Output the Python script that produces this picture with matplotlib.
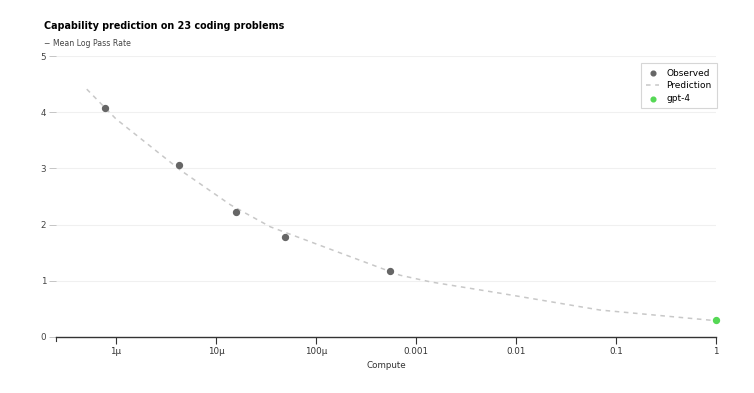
import numpy as np
import matplotlib
matplotlib.use('Agg')
import matplotlib.pyplot as plt

# observed points (compute, mean log pass rate)
obs_x = [7.8e-7, 4.3e-6, 1.6e-5, 4.9e-5, 5.5e-4]
obs_y = [4.07, 3.06, 2.22, 1.78, 1.17]

# prediction curve
pred_x = [5.1e-7, 1e-6, 4.4e-6, 1.4e-5, 3.5e-5, 6.9e-4, 1.4e-3, 6.9e-3, 6.9e-2, 1.0]
pred_y = [4.41, 3.88, 2.97, 2.35, 1.96, 1.10, 0.98, 0.78, 0.48, 0.29]

gpt4_x = [1.0]
gpt4_y = [0.30]

xticks = [1e-6, 1e-5, 1e-4, 1e-3, 1e-2, 1e-1, 1]
xticklabels = ['1µ', '10µ', '100µ', '0.001', '0.01', '0.1', '1']
yticks = [0, 1, 2, 3, 4, 5]

plt.rcParams['font.family'] = ['DejaVu Sans']

fig = plt.figure(figsize=(7.54, 3.93), dpi=100)
ax = fig.add_axes([56/754, 1-337/393, 660/754, 281/393])

ax.plot(pred_x, pred_y, color='#c8c8c8', lw=1.1, ls=(0, (3, 3)), label='Prediction', zorder=2)
ax.scatter(obs_x, obs_y, s=18, color='#666666', label='Observed', zorder=3)
ax.scatter(gpt4_x, gpt4_y, s=18, color='#55d855', label='gpt-4', zorder=3, clip_on=False)

ax.set_xscale('log')
ax.set_xlim(10**-6.6, 1)
ax.set_ylim(0, 5)
ax.set_xticks(xticks)
ax.set_xticklabels(xticklabels)
ax.minorticks_off()
ax.set_yticks(yticks)

for y in yticks[1:]:
    ax.axhline(y, color='#f0f0f0', lw=0.8, zorder=0)

for s in ['top', 'right', 'left']:
    ax.spines[s].set_visible(False)
ax.spines['bottom'].set_color('#333333')
ax.spines['bottom'].set_linewidth(1.0)
ax.tick_params(axis='x', length=5, width=0.8, color='#333333', labelsize=6.3, labelcolor='#333333', pad=2)
ax.tick_params(axis='y', length=5, width=0.6, color='#bbbbbb', labelsize=6.3, labelcolor='#444444', pad=2)
# outer tick at the left end of the axis
ax.plot([10**-6.6, 10**-6.6], [0, -0.08], color='#333333', lw=0.8, clip_on=False)

ax.set_xlabel('Compute', fontsize=6.3, color='#333333', labelpad=4)

fig.text(44/754, 1-26/393, 'Capability prediction on 23 coding problems',
         fontsize=6.9, fontweight='bold', va='center', color='#000000')
fig.text(44/754, 1-43/393, '− Mean Log Pass Rate', fontsize=5.6, va='center', color='#444444')

handles, labels = ax.get_legend_handles_labels()
order = [labels.index('Observed'), labels.index('Prediction'), labels.index('gpt-4')]
leg = ax.legend([handles[i] for i in order], [labels[i] for i in order],
                loc='upper right', bbox_to_anchor=(1.008, 0.99), fontsize=6.5,
                frameon=True, fancybox=False, handlelength=1.4, handletextpad=0.8,
                borderpad=0.6, labelspacing=0.4, markerscale=0.8)
leg.get_frame().set_edgecolor('#cccccc')
leg.get_frame().set_linewidth(0.8)

fig.savefig('out.png', dpi=100)
